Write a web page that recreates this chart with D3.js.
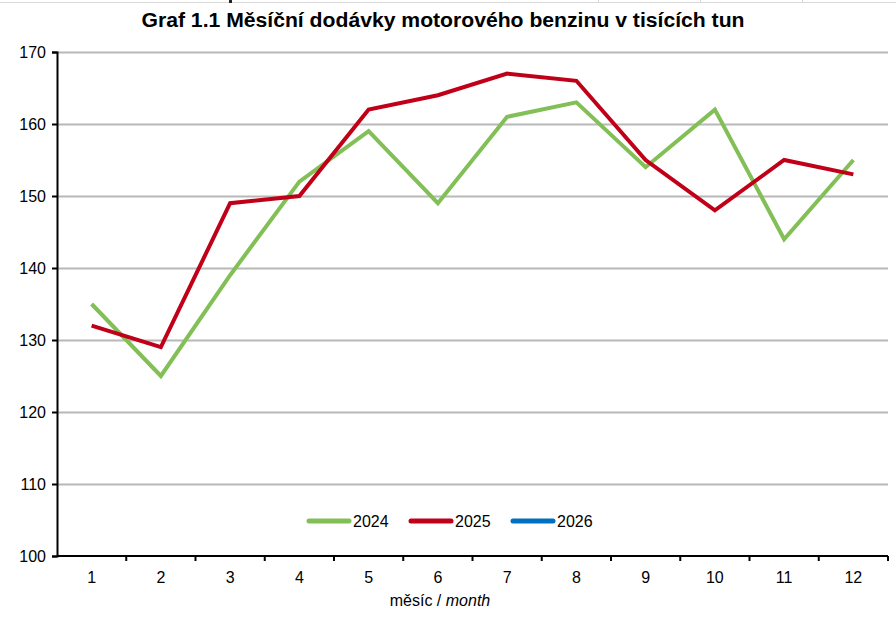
<!DOCTYPE html>
<html>
<head>
<meta charset="utf-8">
<script src="https://cdn.jsdelivr.net/npm/d3@7"></script>
<style>
  body { margin: 0; background: #fff; }
  svg { display: block; font-family: "Liberation Sans", Arial, sans-serif; }
</style>
</head>
<body>
<div id="chart"></div>
<script>
const months = ["1", "2", "3", "4", "5", "6", "7", "8", "9", "10", "11", "12"];
const values2024 = [135, 125, 139, 152, 159, 149, 161, 163, 154, 162, 144, 155];
const values2025 = [132, 129, 149, 150, 162, 164, 167, 166, 155, 148, 155, 153];
const values2026 = [];
const yTicks = [100, 110, 120, 130, 140, 150, 160, 170];

const series = [
  { name: "2024", values: values2024, color: "#82bf56" },
  { name: "2025", values: values2025, color: "#c00018" },
  { name: "2026", values: values2026, color: "#0070c0" }
];

const width = 896, height = 624;
const margin = { top: 52, right: 8, bottom: 68, left: 57 };

const svg = d3.select("#chart").append("svg")
  .attr("width", width)
  .attr("height", height);

// spreadsheet remnants along the top edge
svg.append("line")
  .attr("x1", 0).attr("x2", width).attr("y1", 2.5).attr("y2", 2.5)
  .attr("stroke", "#d9d9d9").attr("stroke-width", 1);
[598, 700, 802].forEach(x => {
  svg.append("line")
    .attr("x1", x + 0.5).attr("x2", x + 0.5).attr("y1", 0).attr("y2", 3)
    .attr("stroke", "#d9d9d9");
});
svg.append("rect")
  .attr("x", 229).attr("y", 0).attr("width", 3).attr("height", 3)
  .attr("fill", "#222");

const x = d3.scaleBand()
  .domain(months)
  .range([margin.left, width - margin.right]);

const y = d3.scaleLinear()
  .domain([100, 170])
  .range([height - margin.bottom, margin.top]);

// title
svg.append("text")
  .attr("x", 443)
  .attr("y", 27)
  .attr("text-anchor", "middle")
  .attr("font-size", 20)
  .attr("font-weight", "bold")
  .attr("fill", "#000")
  .attr("textLength", 603)
  .attr("lengthAdjust", "spacingAndGlyphs")
  .text("Graf 1.1 Měsíční dodávky motorového benzinu v tisících tun");

// gridlines
svg.append("g")
  .selectAll("line")
  .data(yTicks.filter(d => d > 100))
  .join("line")
    .attr("x1", margin.left)
    .attr("x2", width - margin.right)
    .attr("y1", d => Math.round(y(d)) + 0.5)
    .attr("y2", d => Math.round(y(d)) + 0.5)
    .attr("stroke", "#b8b8b8")
    .attr("stroke-width", 2);

// y axis
const yAxis = svg.append("g")
  .attr("transform", `translate(${margin.left},0)`)
  .call(d3.axisLeft(y).tickValues(yTicks).tickSize(5).tickPadding(6).tickFormat(d3.format("d")));
yAxis.select(".domain").attr("stroke", "#000").attr("stroke-width", 2);
yAxis.selectAll(".tick line").attr("stroke", "#000").attr("stroke-width", 2);
yAxis.selectAll(".tick text").attr("font-size", 16).attr("fill", "#000")
  .attr("font-family", "Liberation Sans, Arial, sans-serif");

// x axis: ticks sit between categories
const xAxisG = svg.append("g")
  .attr("transform", `translate(0,${height - margin.bottom})`);
xAxisG.append("line")
  .attr("x1", margin.left).attr("x2", width - margin.right)
  .attr("stroke", "#000").attr("stroke-width", 2);
xAxisG.selectAll(".sep")
  .data(months)
  .join("line")
    .attr("class", "sep")
    .attr("x1", d => x(d) + x.bandwidth())
    .attr("x2", d => x(d) + x.bandwidth())
    .attr("y1", 0).attr("y2", 5)
    .attr("stroke", "#000").attr("stroke-width", 2);
xAxisG.selectAll(".lbl")
  .data(months)
  .join("text")
    .attr("class", "lbl")
    .attr("x", d => x(d) + x.bandwidth() / 2)
    .attr("y", 27)
    .attr("text-anchor", "middle")
    .attr("font-size", 16)
    .attr("fill", "#000")
    .text(d => d);

// x axis title
const xt = svg.append("text")
  .attr("x", 440)
  .attr("y", 606)
  .attr("text-anchor", "middle")
  .attr("font-size", 16)
  .attr("fill", "#000");
xt.append("tspan").text("měsíc / ");
xt.append("tspan").attr("font-style", "italic").text("month");

// lines
const line = d3.line()
  .x((d, i) => x(months[i]) + x.bandwidth() / 2)
  .y(d => y(d));

svg.append("g")
  .selectAll("path")
  .data(series.filter(s => s.values.length))
  .join("path")
    .attr("d", d => line(d.values))
    .attr("fill", "none")
    .attr("stroke", d => d.color)
    .attr("stroke-width", 4)
    .attr("stroke-linejoin", "miter")
    .attr("stroke-linecap", "butt");

// legend
const legend = svg.append("g")
  .attr("transform", "translate(307,521)");
const item = legend.selectAll("g")
  .data(series)
  .join("g")
    .attr("transform", (d, i) => `translate(${i * 102},0)`);
item.append("line")
  .attr("x1", 2).attr("x2", 42)
  .attr("stroke", d => d.color)
  .attr("stroke-width", 5)
  .attr("stroke-linecap", "round");
item.append("text")
  .attr("x", 46)
  .attr("y", 6)
  .attr("font-size", 16)
  .attr("fill", "#000")
  .text(d => d.name);
</script>
</body>
</html>
